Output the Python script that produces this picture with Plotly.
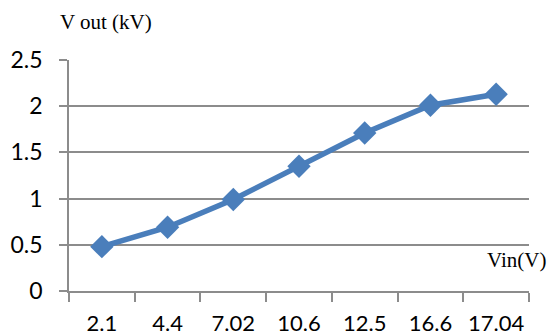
import plotly.graph_objects as go

vin_labels = ["2.1", "4.4", "7.02", "10.6", "12.5", "16.6", "17.04"]
vout_kv = [0.48, 0.69, 0.99, 1.35, 1.71, 2.01, 2.13]
y_ticks = [0, 0.5, 1, 1.5, 2, 2.5]
y_tick_text = ["0", "0.5", "1", "1.5", "2", "2.5"]

grid_col = "#8c8c8c"
blue = "#4a7ebb"

fig = go.Figure()
fig.add_trace(go.Scatter(
    x=vin_labels, y=vout_kv, mode="lines+markers",
    line=dict(color=blue, width=5.5),
    marker=dict(symbol="diamond", size=18, color=blue),
    showlegend=False, cliponaxis=False,
))

fig.update_layout(
    width=553, height=336,
    margin=dict(l=69, r=24, t=60, b=45, autoexpand=False),
    paper_bgcolor="white", plot_bgcolor="white",
    font=dict(family="Lato, Open Sans, sans-serif", color="black"),
    xaxis=dict(
        type="category", tickson="boundaries", automargin=False,
        showgrid=False, showline=True, linecolor=grid_col, linewidth=1.5,
        ticks="outside", ticklen=9, tickcolor=grid_col, tickwidth=1.5,
        tickfont=dict(size=22, family="Lato, sans-serif"),
        tickangle=0, ticklabelstandoff=12,
        range=[-0.5, 6.5],
    ),
    yaxis=dict(
        range=[0, 2.5], tickvals=y_ticks, ticktext=y_tick_text, automargin=False,
        showgrid=True, gridcolor=grid_col, gridwidth=1.5,
        showline=True, linecolor=grid_col, linewidth=1.5,
        ticks="outside", ticklen=8, tickcolor=grid_col, tickwidth=1.5,
        tickfont=dict(size=23, family="Lato, sans-serif"),
        ticklabelstandoff=12, zeroline=False,
    ),
    shapes=[dict(
        type="rect", xref="paper", yref="y", layer="between",
        x0=(461 - 69) / 460, x1=1.01, y0=0.1, y1=0.7,
        fillcolor="white", line=dict(width=0),
    )],
    annotations=[
        dict(text="V out (kV)", xref="paper", yref="paper",
             x=(106 - 69) / 460, y=(291 - 22) / 231, showarrow=False,
             xanchor="center", yanchor="middle",
             font=dict(family="Liberation Serif, serif", size=21)),
        dict(text="Vin(V)", xref="paper", yref="paper",
             x=(516 - 69) / 460, y=(291 - 260) / 231, showarrow=False,
             xanchor="center", yanchor="middle",
             font=dict(family="Liberation Serif, serif", size=21)),
    ],
)

fig.write_html("out.html", config={"displayModeBar": False},
               post_script="document.body.style.margin='0';document.body.style.overflow='hidden';")
